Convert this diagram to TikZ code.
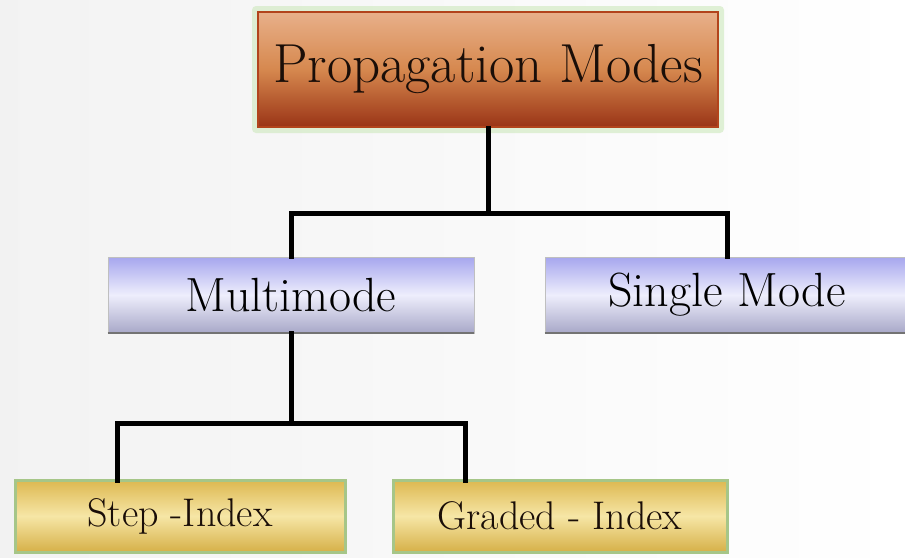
\documentclass[tikz,border=0pt]{standalone}
\usepackage{fontspec}
\usetikzlibrary{positioning}
\definecolor{brtop}{HTML}{E8B08A}
\definecolor{brmid}{HTML}{D6884E}
\definecolor{brbot}{HTML}{9A3416}
\definecolor{brline}{HTML}{B2441C}
\definecolor{bltop}{HTML}{A6A6EE}
\definecolor{blmid}{HTML}{EEEEFC}
\definecolor{blbot}{HTML}{A8A8C8}
\definecolor{yltop}{HTML}{DDB850}
\definecolor{ylmid}{HTML}{F6E6A6}
\definecolor{ylbot}{HTML}{D6B048}
\definecolor{glow}{HTML}{CDE8BC}
\definecolor{ylline}{HTML}{A6C688}
\definecolor{txt}{HTML}{1A0E08}
\tikzset{
  topbox/.style={rectangle, draw=brline, line width=2.5pt, top color=brtop, bottom color=brbot, middle color=brmid,
    minimum width=460pt, minimum height=115pt, inner sep=0pt, text=txt,
    font=\fontsize{55}{60}\selectfont},
  bluebox/.style={rectangle, draw=black!25, line width=0.6pt, top color=bltop, bottom color=blbot, middle color=blmid,
    minimum height=76pt, inner sep=0pt, text=black,
    font=\fontsize{48}{52}\selectfont},
  yellowbox/.style={rectangle, draw=ylline, line width=3pt, top color=yltop, bottom color=ylbot, middle color=ylmid,
    minimum width=330pt, minimum height=72pt, inner sep=0pt, text=txt,
    font=\fontsize{40}{44}\selectfont},
  conn/.style={line width=5pt, black, line cap=rect, line join=miter},
}
\begin{document}
\begin{tikzpicture}[x=1pt,y=-1pt]
\useasboundingbox (0,0) rectangle (905,557);
\shade[left color=black!5, right color=white] (0,0) rectangle (905,557);
% glow behind top box
\fill[glow, opacity=0.6, rounded corners=4pt] (252,6) rectangle (724,133);
\node[topbox] (top) at (488,69.5) {Propagation Modes};
\node[bluebox, minimum width=366pt] (mm) at (291,295) {Multimode};
\node[bluebox, minimum width=364pt] (sm) at (727,295) {Single Mode};
\draw[black!55, line width=2pt] (mm.south west) -- (mm.south east);
\draw[black!55, line width=2pt] (sm.south west) -- (sm.south east);
\node[yellowbox] (si) at (180,516) {Step -Index};
\node[yellowbox, minimum width=334pt] (gi) at (560,516) {Graded - Index};
\coordinate (s1) at (117,480);
\coordinate (g1) at (465,480);
% connectors
\draw[conn] (top.south) -- ++(0,85) coordinate (b1);
\draw[conn] (mm.north) -- (mm.north |- b1) -- (sm.north |- b1) -- (sm.north);
\draw[conn] (mm.south) -- ++(0,90) coordinate (b2);
\draw[conn] (s1) -- (s1 |- b2) -- (g1 |- b2) -- (g1);
\end{tikzpicture}
\end{document}
